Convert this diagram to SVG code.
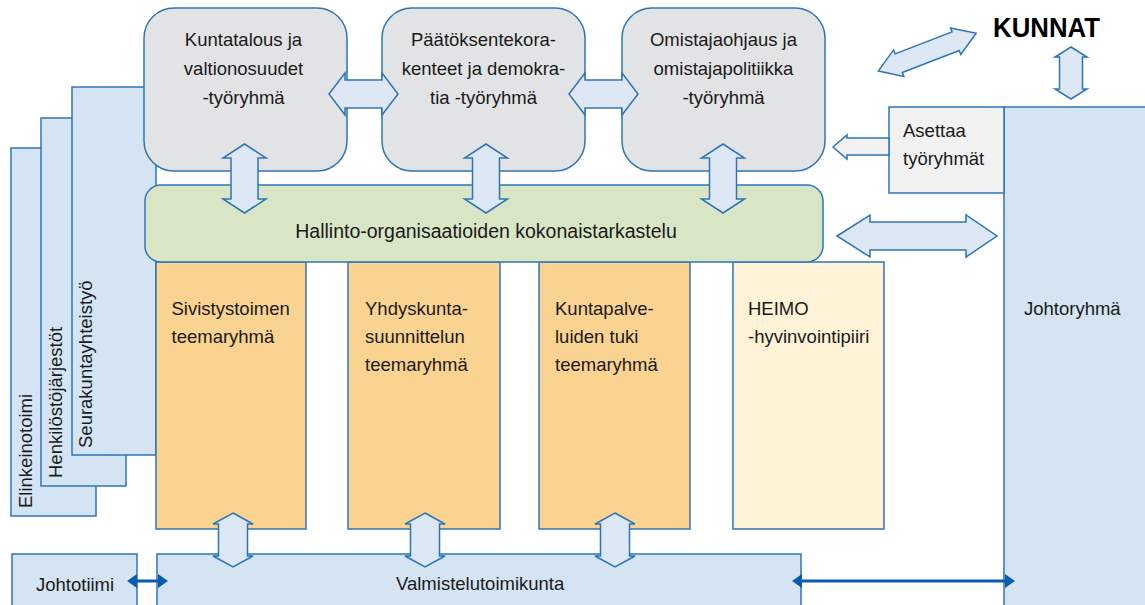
<svg xmlns="http://www.w3.org/2000/svg" width="1145" height="605" viewBox="0 0 1145 605">
<defs>
<style>
text{font-family:"Liberation Sans",Arial,sans-serif;font-size:18.5px;fill:#1a1a1a}
.c{text-anchor:middle}
.panel{fill:#D4E4F3;stroke:#2E75B6;stroke-width:1.5}
.top{fill:#E2E3E5;stroke:#2E75B6;stroke-width:1.5}
.green{fill:#D8E6C5;stroke:#2E75B6;stroke-width:1.5}
.orange{fill:#FAD391;stroke:#2E75B6;stroke-width:1.5}
.heimo{fill:#FFF2D7;stroke:#2E75B6;stroke-width:1.5}
.grey{fill:#F2F2F2;stroke:#2E75B6;stroke-width:1.5}
.arr{fill:#DEE8F5;stroke:#2E75B6;stroke-width:1.5;stroke-linejoin:miter}
.arrg{fill:#F2F2F2;stroke:#2E75B6;stroke-width:1.5}
.dk{stroke:#0B5CAD;stroke-width:3;fill:none}
</style>
<marker id="dh" viewBox="0 0 10 14" refX="2" refY="7" markerWidth="10" markerHeight="14" markerUnits="userSpaceOnUse" orient="auto-start-reverse">
<path d="M0,0 L10,7 L0,14 Z" fill="#0B5CAD"/>
</marker>
</defs>
<g id="panel-elinkeinotoimi">
<rect class="panel" x="11" y="148" width="85" height="368"/>
<text transform="translate(31.7,508) rotate(-90)">Elinkeinotoimi</text>
</g>
<g id="panel-henkilostojarjestot">
<rect class="panel" x="41" y="118" width="85" height="368"/>
<text transform="translate(61.7,478) rotate(-90)">Henkilöstöjärjestöt</text>
</g>
<g id="panel-seurakunta">
<rect class="panel" x="72" y="87" width="84" height="368"/>
<text transform="translate(91.7,448) rotate(-90)">Seurakuntayhteistyö</text>
</g>
<g id="johtoryhma">
<rect class="panel" x="1004" y="107" width="150" height="510"/>
<text x="1024" y="315">Johtoryhmä</text>
</g>
<g id="asettaa">
<rect class="grey" x="889" y="107" width="115" height="86"/>
<text x="903" y="137">Asettaa</text>
<text x="903" y="165">työryhmät</text>
</g>
<g id="kunnat">
<text x="993" y="37" style="font-size:27px;font-weight:bold;fill:#000" textLength="107" lengthAdjust="spacingAndGlyphs">KUNNAT</text>
</g>
<g id="kuntatalous">
<rect class="top" x="144" y="8" width="203" height="163" rx="30"/>
<text class="c" x="243.5" y="45.5">Kuntatalous ja</text>
<text class="c" x="243.5" y="75">valtionosuudet</text>
<text class="c" x="243.5" y="104">-työryhmä</text>
</g>
<g id="paatoksenteko">
<rect class="top" x="382" y="8" width="203" height="163" rx="30"/>
<text class="c" x="483.5" y="45.5">Päätöksentekora-</text>
<text class="c" x="483.5" y="75">kenteet ja demokra-</text>
<text class="c" x="483.5" y="104">tia -työryhmä</text>
</g>
<g id="omistajaohjaus">
<rect class="top" x="622" y="8" width="203" height="163" rx="30"/>
<text class="c" x="723.5" y="45.5">Omistajaohjaus ja</text>
<text class="c" x="723.5" y="75">omistajapolitiikka</text>
<text class="c" x="723.5" y="104">-työryhmä</text>
</g>
<g id="sivistystoimi">
<rect class="orange" x="156" y="262" width="150" height="267"/>
<text x="171.5" y="315">Sivistystoimen</text>
<text x="171.5" y="343">teemaryhmä</text>
</g>
<g id="yhdyskunta">
<rect class="orange" x="348" y="262" width="152" height="267"/>
<text x="365" y="315">Yhdyskunta-</text>
<text x="365" y="343">suunnittelun</text>
<text x="365" y="371">teemaryhmä</text>
</g>
<g id="kuntapalvelut">
<rect class="orange" x="539" y="262" width="151" height="267"/>
<text x="555" y="315">Kuntapalve-</text>
<text x="555" y="343">luiden tuki</text>
<text x="555" y="371">teemaryhmä</text>
</g>
<g id="heimo">
<rect class="heimo" x="733" y="262" width="151" height="267"/>
<text x="748" y="315">HEIMO</text>
<text x="748" y="343">-hyvinvointipiiri</text>
</g>
<g id="hallinto">
<rect class="green" x="145" y="185" width="678" height="77" rx="16"/>
<text class="c" x="486" y="238" style="font-size:19.5px">Hallinto-organisaatioiden kokonaistarkastelu</text>
</g>
<g id="johtotiimi">
<rect class="panel" x="12" y="554" width="125" height="60"/>
<text x="36" y="590.5">Johtotiimi</text>
</g>
<g id="valmistelutoimikunta">
<rect class="panel" x="157" y="554" width="644" height="60"/>
<text x="396" y="590">Valmistelutoimikunta</text>
</g>
<g id="connectors">
<path class="arr" d="M329,94 L345,73 L345,80 L382,80 L382,73 L398,94 L382,115 L382,108 L345,108 L345,115 Z"/>
<path class="arr" d="M569,94 L585,73 L585,80 L622,80 L622,73 L638,94 L622,115 L622,108 L585,108 L585,115 Z"/>
<path class="arr" d="M244.5,144 L266,158 L258,158 L258,199 L266,199 L244.5,213 L223,199 L231,199 L231,158 L223,158 Z"/>
<path class="arr" d="M486,144 L507.5,158 L499.5,158 L499.5,199 L507.5,199 L486,213 L464.5,199 L472.5,199 L472.5,158 L464.5,158 Z"/>
<path class="arr" d="M723,144 L744.5,158 L736.5,158 L736.5,199 L744.5,199 L723,213 L701.5,199 L709.5,199 L709.5,158 L701.5,158 Z"/>
<path class="arr" d="M837,236 L870,215 L870,222 L966,222 L966,215 L997,236 L966,257 L966,250 L870,250 L870,257 Z"/>
<path class="arr" d="M233,513 L253,524 L247.5,524 L247.5,556 L253,556 L233,567 L213,556 L218.5,556 L218.5,524 L213,524 Z"/>
<path class="arr" d="M425,513 L445,524 L439.5,524 L439.5,556 L445,556 L425,567 L405,556 L410.5,556 L410.5,524 L405,524 Z"/>
<path class="arr" d="M615,513 L635,524 L629.5,524 L629.5,556 L635,556 L615,567 L595,556 L600.5,556 L600.5,524 L595,524 Z"/>
<path class="arr" d="M1071,47 L1087,57 L1082.5,57 L1082.5,89 L1087,89 L1071,99 L1055,89 L1059.5,89 L1059.5,57 L1055,57 Z"/>
<path class="arr" transform="translate(927.2,52.2) rotate(-21.1)" d="M-52.5,0 L-30.5,-14.2 L-30.5,-10 L30.5,-10 L30.5,-14.2 L52.5,0 L30.5,14.2 L30.5,10 L-30.5,10 L-30.5,14.2 Z"/>
<path class="arrg" d="M833,147 L847,135 L847,138 L889,138 L889,155 L847,155 L847,159 Z"/>
<line class="dk" x1="135" y1="581" x2="160" y2="581" marker-start="url(#dh)" marker-end="url(#dh)"/>
<line class="dk" x1="800" y1="581" x2="1007" y2="581" marker-start="url(#dh)" marker-end="url(#dh)"/>
</g>
</svg>
